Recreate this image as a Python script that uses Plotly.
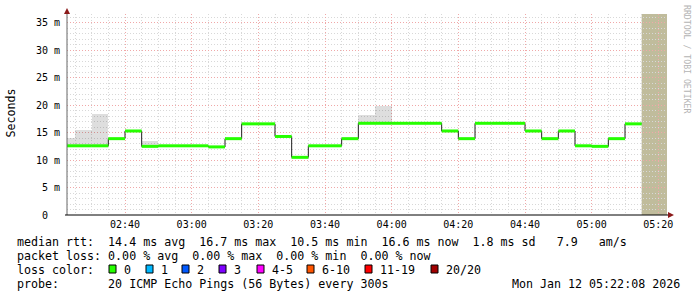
import plotly.graph_objects as go
from datetime import datetime, timedelta

# ---------------- data ----------------
day = "2026-01-12"
bin_starts = ["02:20", "02:25", "02:30", "02:35", "02:40", "02:45", "02:50", "02:55",
              "03:00", "03:05", "03:10", "03:15", "03:20", "03:25", "03:30", "03:35",
              "03:40", "03:45", "03:50", "03:55", "04:00", "04:05", "04:10", "04:15",
              "04:20", "04:25", "04:30", "04:35", "04:40", "04:45", "04:50", "04:55",
              "05:00", "05:05", "05:10"]
median_ms = [12.6, 12.6, 12.6, 13.9, 15.3, 12.5, 12.6, 12.6,
             12.6, 12.4, 13.9, 16.6, 16.6, 14.3, 10.5, 12.6,
             12.6, 13.9, 16.7, 16.7, 16.7, 16.7, 16.7, 15.3,
             13.9, 16.7, 16.7, 16.7, 15.3, 13.9, 15.3, 12.6,
             12.5, 13.9, 16.6]
smoke_top_ms = [14.1, 15.5, 18.4, 13.9, 15.3, 13.5, 12.6, 12.6,
                12.6, 12.4, 13.9, 16.6, 16.6, 14.3, 10.5, 12.6,
                12.6, 13.9, 18.2, 19.9, 16.7, 16.7, 16.7, 15.3,
                13.9, 16.7, 16.7, 16.7, 15.3, 13.9, 15.3, 12.6,
                12.5, 13.9, 16.6]
unknown_start = "05:15"
y_tick_vals = [0, 5, 10, 15, 20, 25, 30, 35]
y_tick_text = ["0\u00a0\u00a0", "5\u00a0m", "10\u00a0m", "15\u00a0m", "20\u00a0m",
               "25\u00a0m", "30\u00a0m", "35\u00a0m"]
loss_labels = ["0", "1", "2", "3", "4-5", "6-10", "11-19", "20/20"]
loss_colors = ["#26ff00", "#00b8ff", "#0059ff", "#7e00ff", "#ff00ff", "#ff5500",
               "#ff0000", "#a10000"]
line1 = "median rtt:  14.4 ms avg  16.7 ms max  10.5 ms min  16.6 ms now  1.8 ms sd   7.9   am/s"
line2 = "packet loss: 0.00 % avg  0.00 % max  0.00 % min  0.00 % now"
line4 = "probe:       20 ICMP Echo Pings (56 Bytes) every 300s"
stamp = "Mon Jan 12 05:22:08 2026"

# ---------------- geometry ----------------
W, H = 697, 297
L, R, T, B = 67, 30, 14, 82
PW, PH = W - L - R, H - T - B


def px(x):
    return (x - L) / PW


def py(y):
    return (H - B - y) / PH


def ts(hm):
    return datetime.strptime(f"{day} {hm}", "%Y-%m-%d %H:%M")


step = timedelta(minutes=5)
starts = [ts(s) for s in bin_starts]
ends = [s + step for s in starts]
centers = [s + step / 2 for s in starts]
x_range = [datetime(2026, 1, 12, 2, 22, 36), datetime(2026, 1, 12, 5, 22, 36)]
y_range = [0, 36.6]

fig = go.Figure()

# smoke
fig.add_trace(go.Bar(
    x=centers, y=[t - m for t, m in zip(smoke_top_ms, median_ms)], base=median_ms,
    width=[300000] * len(centers), marker=dict(color="rgba(0,0,0,0.13)", line=dict(width=0)),
    hoverinfo="skip", showlegend=False))

# black step connectors
fig.add_trace(go.Scatter(
    x=starts + [ends[-1]], y=median_ms + [median_ms[-1]], mode="lines",
    line=dict(color="#202020", width=1, shape="hv"), hoverinfo="skip", showlegend=False))

# green median segments
gx, gy = [], []
for s, e, m in zip(starts, ends, median_ms):
    gx += [s, e, None]
    gy += [m, m, None]
fig.add_trace(go.Scatter(x=gx, y=gy, mode="lines", line=dict(color=loss_colors[0], width=3),
                         hoverinfo="skip", showlegend=False))

shapes = []
# unknown region
shapes.append(dict(type="rect", xref="x", yref="paper", x0=ts(unknown_start), x1=x_range[1],
                   y0=0, y1=1, fillcolor="#c0bc9c", line=dict(width=0), layer="below"))
# axis extension + arrows
shapes.append(dict(type="line", xref="paper", yref="paper", x0=px(67), x1=px(67), y0=py(215),
                   y1=py(12), line=dict(color="#666666", width=1)))
shapes.append(dict(type="line", xref="paper", yref="paper", x0=px(65), x1=px(670), y0=py(215),
                   y1=py(215), line=dict(color="#000000", width=1)))
ax_col = "#8b1a1a"
shapes.append(dict(type="path", xref="paper", yref="paper",
                   path=f"M {px(64)},{py(14)} L {px(70)},{py(14)} L {px(67)},{py(8)} Z",
                   fillcolor=ax_col, line=dict(width=0)))
shapes.append(dict(type="path", xref="paper", yref="paper",
                   path=f"M {px(668)},{py(212)} L {px(668)},{py(218)} L {px(674)},{py(215)} Z",
                   fillcolor=ax_col, line=dict(width=0)))

mono = "DejaVu Sans Mono"
fs = 11.65
ann = []


def text(x, y, s, size=fs, anchor="left", color="#000000", angle=0):
    ann.append(dict(xref="paper", yref="paper", x=px(x), y=py(y), text=s.replace(" ", "\u00a0"),
                    showarrow=False, xanchor=anchor, yanchor="middle", textangle=angle,
                    font=dict(family=mono, size=size, color=color), borderpad=0))


text(16, 241.5, line1)
text(16, 255.5, line2)
text(16, 269.5, "loss color:")
text(16, 283.5, line4)
text(681, 283.5, stamp, anchor="right")

box_x = [109, 146, 182, 219, 257, 307, 365, 431]
for bx, lab, col in zip(box_x, loss_labels, loss_colors):
    shapes.append(dict(type="rect", xref="paper", yref="paper", x0=px(bx), x1=px(bx + 7),
                       y0=py(273), y1=py(265), fillcolor=col, line=dict(color="#000000", width=1)))
    text(bx + 14, 269.5, lab)

ann.append(dict(xref="paper", yref="paper", x=px(10.5), y=py(113), text="Seconds", showarrow=False,
                textangle=-90, xanchor="center", yanchor="middle",
                font=dict(family=mono, size=fs, color="#000000")))
ann.append(dict(xref="paper", yref="paper", x=px(687), y=py(59), text="RRDTOOL / TOBI OETIKER".replace(" ", "\u00a0"),
                showarrow=False, textangle=90, xanchor="center", yanchor="middle",
                font=dict(family=mono, size=8.2, color="#b4b4b4")))

fig.update_layout(
    width=W, height=H, margin=dict(l=L, r=R, t=T, b=B, pad=0),
    paper_bgcolor="#ffffff", plot_bgcolor="#ffffff", bargap=0,
    shapes=shapes, annotations=ann, showlegend=False,
    xaxis=dict(type="date", range=x_range, tick0=f"{day} 00:00", dtick=1200000,
               tickformat="%H:%M", showgrid=True, gridcolor="#f0a8a8", griddash="1px,2px",
               gridwidth=1, zeroline=False, showline=False, ticks="",
               tickfont=dict(family=mono, size=10, color="#000000"), ticklabelstandoff=2,
               minor=dict(dtick=300000, showgrid=True, gridcolor="#d8d8d8", griddash="1px,2px",
                          gridwidth=1),
               fixedrange=True),
    yaxis=dict(range=y_range, tickvals=y_tick_vals, ticktext=y_tick_text, showgrid=True,
               gridcolor="#f0a8a8", griddash="1px,2px", gridwidth=1, zeroline=False,
               showline=False, ticks="", tickfont=dict(family=mono, size=10, color="#000000"),
               ticklabelstandoff=6,
               minor=dict(dtick=1, tick0=0, showgrid=True, gridcolor="#d8d8d8", griddash="1px,2px",
                          gridwidth=1),
               fixedrange=True),
)

fig.write_html("out.html", config={"displayModeBar": False})
